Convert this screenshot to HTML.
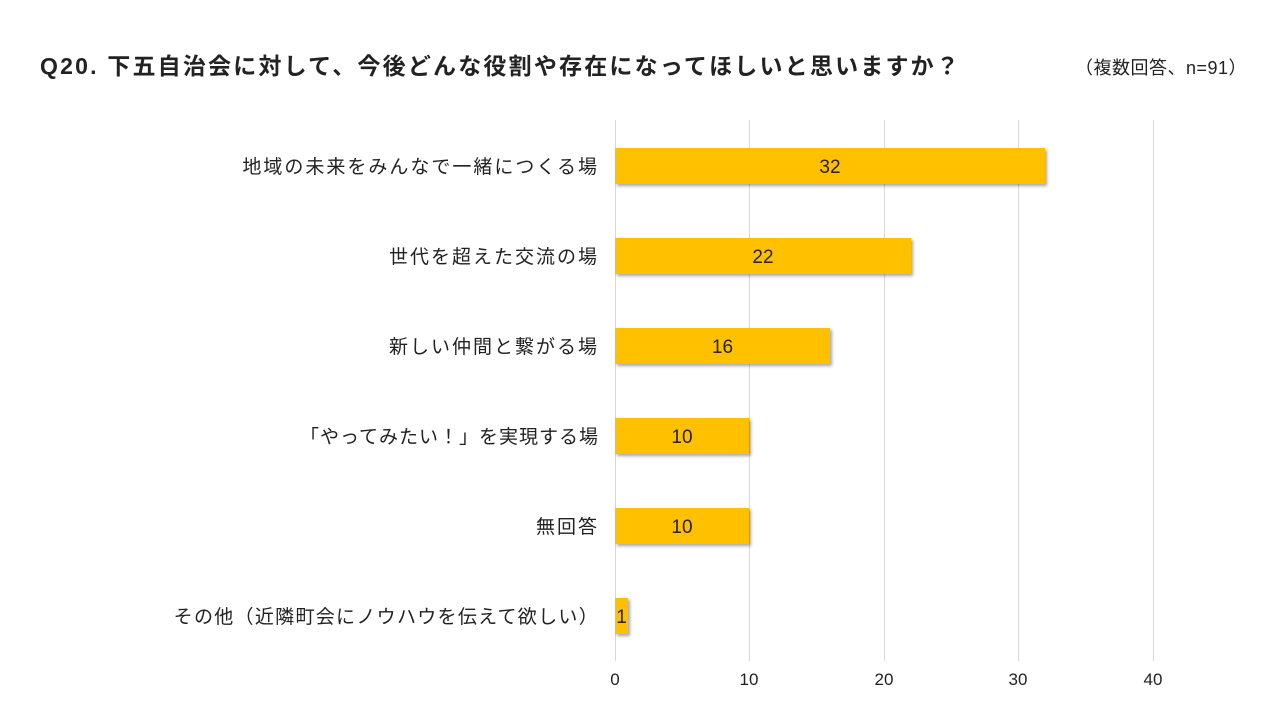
<!DOCTYPE html>
<html><head><meta charset="utf-8"><style>
body{margin:0;width:1280px;height:720px;background:#fff;position:relative;overflow:hidden;font-family:"Liberation Sans","Noto Sans CJK JP",sans-serif;color:#222}
.t{position:absolute;white-space:nowrap}
.g{position:absolute;top:120px;height:541px;width:1px;background:#d9d9d9}
.bar{position:absolute;left:615px;height:36px;background:#FFC000;box-shadow:2px 2px 3px rgba(0,0,0,0.35);text-align:center;font-size:19px;line-height:40px;color:#222}
.lab{position:absolute;right:683px;font-size:19px;line-height:40px;white-space:nowrap;letter-spacing:2px;margin-right:-2px}
.tick{position:absolute;top:670px;font-size:17px;width:40px;text-align:center}
</style></head><body>
<div class="t" style="left:40px;top:47px;font-size:23px;font-weight:bold;letter-spacing:2.2px">Q20. 下五自治会に対して、今後どんな役割や存在になってほしいと思いますか？</div>
<div class="t" style="left:1075px;top:54px;font-size:18px;letter-spacing:0.5px">（複数回答、n=91）</div>
<div class="g" style="left:615px"></div>
<div class="g" style="left:749px"></div>
<div class="g" style="left:884px"></div>
<div class="g" style="left:1018px"></div>
<div class="g" style="left:1153px"></div>
<div class="tick" style="left:595px">0</div>
<div class="tick" style="left:729px">10</div>
<div class="tick" style="left:864px">20</div>
<div class="tick" style="left:998px">30</div>
<div class="tick" style="left:1133px">40</div>
<div class="lab" style="top:148px">地域の未来をみんなで一緒につくる場</div>
<div class="bar" style="top:148px;width:430px">32</div>
<div class="lab" style="top:238px">世代を超えた交流の場</div>
<div class="bar" style="top:238px;width:296px">22</div>
<div class="lab" style="top:328px">新しい仲間と繋がる場</div>
<div class="bar" style="top:328px;width:215px">16</div>
<div class="lab" style="top:418px;letter-spacing:1px">「やってみたい！」を実現する場</div>
<div class="bar" style="top:418px;width:134px">10</div>
<div class="lab" style="top:508px">無回答</div>
<div class="bar" style="top:508px;width:134px">10</div>
<div class="lab" style="top:598px;letter-spacing:1.3px">その他（近隣町会にノウハウを伝えて欲しい）</div>
<div class="bar" style="top:598px;width:13px">1</div>
</body></html>
